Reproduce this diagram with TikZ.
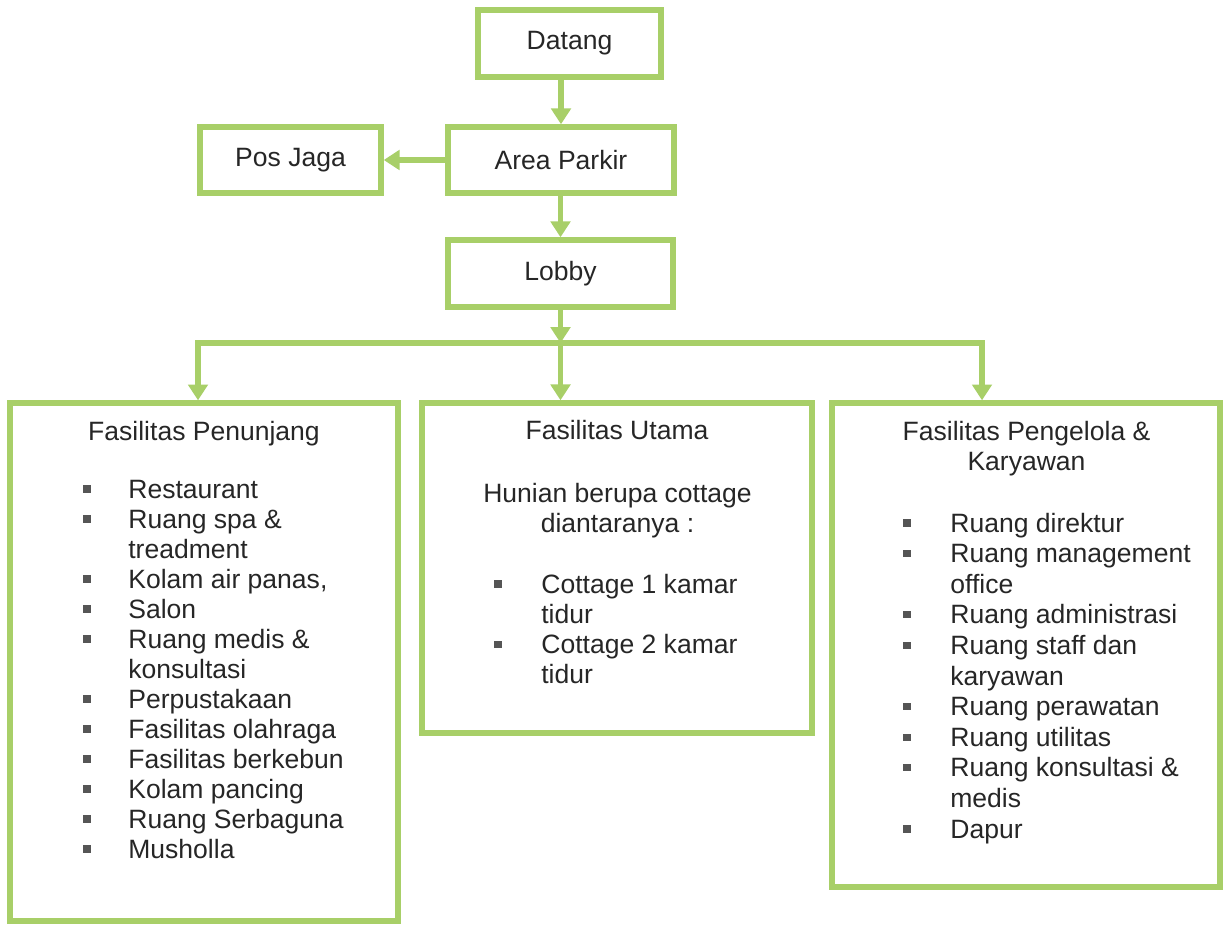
\documentclass[tikz,border=0pt]{standalone}
\usepackage{fontspec}
\setmainfont{Liberation Sans}
\usetikzlibrary{arrows.meta}
\usetikzlibrary{calc}

\definecolor{boxgreen}{RGB}{168,207,104}
\definecolor{txtgray}{RGB}{38,38,38}
\definecolor{bulgray}{RGB}{85,85,85}

\tikzset{
  box/.style={draw=boxgreen,line width=3.1pt,inner sep=0pt,text=txtgray},
  link/.style={draw=boxgreen,line width=3.1pt},
  txt/.style={text=txtgray,anchor=base,inner sep=0pt},
  itm/.style={txt,anchor=base west},
  bul/.style={fill=bulgray,inner sep=0pt,minimum size=4.2pt}
}

\begin{document}
\begin{tikzpicture}[x=0.02cm,y=-0.02cm,>/.tip={Triangle[width=11pt,length=9pt]},
  font=\fontsize{15.1pt}{17.3pt}\selectfont]
	\useasboundingbox (0,0) rectangle (1229,925);

	\draw (569.5,43.5) node (datang) [box,minimum width=3.66cm,minimum height=1.34cm] {Datang};
	\draw (561,160) node (parkir) [box,minimum width=4.52cm,minimum height=1.32cm] {Area Parkir};
	\draw (290.5,160) node (jaga) [box,minimum width=3.62cm,minimum height=1.32cm] {Pos Jaga};
	\draw (560.5,273.5) node (lobby) [box,minimum width=4.5cm,minimum height=1.34cm] {Lobby};

	\draw (204,662) node (pen) [box,minimum width=7.76cm,minimum height=10.36cm] {};
	\draw (617,568) node (uta) [box,minimum width=7.8cm,minimum height=6.6cm] {};
	\draw (1026,645) node (kar) [box,minimum width=7.76cm,minimum height=9.68cm] {};

	\draw[link,->] (parkir.north |- datang.south) -- (parkir.north);
	\draw[link,->] (parkir.west) -- (jaga.east);
	\draw[link,->] (lobby.north |- parkir.south) -- (lobby.north);

	\coordinate (jL) at (198,343);
	\coordinate (jR) at (982,343);
	\draw[link,->] (lobby.south) -- (lobby.south |- jL);
	\draw[link,<->] (jL |- pen.north) -- (jL) -- (jR) -- (jR |- kar.north);
	\draw[link,->] (lobby.south |- jL) -- (lobby.south |- uta.north);

	\node[txt] (penT) at (204,440) {Fasilitas Penunjang};
	\foreach \t [count=\i from 0] in {Restaurant,Ruang spa \&,treadment,{Kolam air panas,},Salon,
	    Ruang medis \&,konsultasi,Perpustakaan,Fasilitas olahraga,Fasilitas berkebun,
	    Kolam pancing,Ruang Serbaguna,Musholla}
	  \node[itm] (pen\i) at (128,498+30*\i) {\t};
	\foreach \i in {0,1,3,4,5,7,8,9,10,11,12}
	  \node[bul] (penb\i) at (87,489+30*\i) {};

	\node[txt] (utaT) at (617,439) {Fasilitas Utama};
	\node[txt] (utaA) at (617.5,502) {Hunian berupa cottage};
	\node[txt] (utaB) at (617.5,532) {diantaranya :};
	\foreach \t [count=\i from 0] in {Cottage 1 kamar,tidur,Cottage 2 kamar,tidur}
	  \node[itm] (uta\i) at (541,593+30.2*\i) {\t};
	\foreach \i in {0,2}
	  \node[bul] (utab\i) at (498,584+30.2*\i) {};

	\node[txt] (karT) at (1026.5,440) {Fasilitas Pengelola \&};
	\node[txt] (karU) at (1026.5,470) {Karyawan};
	\foreach \t [count=\i from 0] in {Ruang direktur,Ruang management,office,Ruang administrasi,
	    Ruang staff dan,karyawan,Ruang perawatan,Ruang utilitas,Ruang konsultasi \&,medis,Dapur}
	  \node[itm] (kar\i) at (950,532+30.6*\i) {\t};
	\foreach \i in {0,1,3,4,6,7,8,10}
	  \node[bul] (karb\i) at (907,523+30.6*\i) {};
\end{tikzpicture}
\end{document}
